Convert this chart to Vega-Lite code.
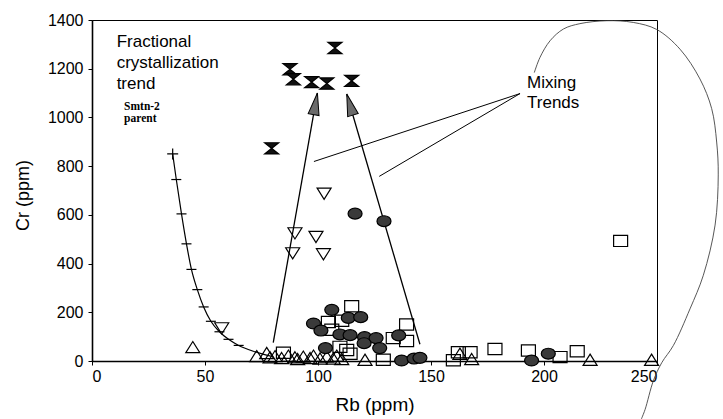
{
  "$schema": "https://vega.github.io/schema/vega-lite/v6.json",
  "width": 565,
  "height": 341,
  "autosize": {"type": "none"},
  "padding": {"left": 92, "top": 20, "right": 66, "bottom": 58},
  "background": "white",
  "config": {
    "font": "Liberation Sans",
    "view": {"stroke": "black", "strokeWidth": 1},
    "axis": {
      "grid": false,
      "domainColor": "black",
      "domainWidth": 1.6,
      "tickColor": "black",
      "tickWidth": 1,
      "tickSize": 4,
      "labelColor": "black",
      "labelFontSize": 16,
      "labelPadding": 4,
      "format": "d",
      "titleColor": "black",
      "titleFontWeight": "normal"
    }
  },
  "datasets": {
    "samples": [
      {"type": "square", "Rb": 84.7, "Cr": 34},
      {"type": "square", "Rb": 104.6, "Cr": 160},
      {"type": "square", "Rb": 106.1, "Cr": 128},
      {"type": "square", "Rb": 110.5, "Cr": 165},
      {"type": "square", "Rb": 114.9, "Cr": 225},
      {"type": "square", "Rb": 109.7, "Cr": 58},
      {"type": "square", "Rb": 112.7, "Cr": 45},
      {"type": "square", "Rb": 114.2, "Cr": 30},
      {"type": "square", "Rb": 128.9, "Cr": 5},
      {"type": "square", "Rb": 133.3, "Cr": 94},
      {"type": "square", "Rb": 139.2, "Cr": 82},
      {"type": "square", "Rb": 139.2, "Cr": 150},
      {"type": "square", "Rb": 159.9, "Cr": 3},
      {"type": "square", "Rb": 162.1, "Cr": 36},
      {"type": "square", "Rb": 167.3, "Cr": 36},
      {"type": "square", "Rb": 178.3, "Cr": 49},
      {"type": "square", "Rb": 193.1, "Cr": 43},
      {"type": "square", "Rb": 207.1, "Cr": 16},
      {"type": "square", "Rb": 214.7, "Cr": 40},
      {"type": "square", "Rb": 233.9, "Cr": 493},
      {"type": "tri-up", "Rb": 44.6, "Cr": 57},
      {"type": "tri-up", "Rb": 72.9, "Cr": 20},
      {"type": "tri-up", "Rb": 77.3, "Cr": 33},
      {"type": "tri-up", "Rb": 78.8, "Cr": 15},
      {"type": "tri-up", "Rb": 81.0, "Cr": 20},
      {"type": "tri-up", "Rb": 83.9, "Cr": 12},
      {"type": "tri-up", "Rb": 86.9, "Cr": 22},
      {"type": "tri-up", "Rb": 89.8, "Cr": 15},
      {"type": "tri-up", "Rb": 91.0, "Cr": 8},
      {"type": "tri-up", "Rb": 93.5, "Cr": 18},
      {"type": "tri-up", "Rb": 96.5, "Cr": 12},
      {"type": "tri-up", "Rb": 98.0, "Cr": 22},
      {"type": "tri-up", "Rb": 100.9, "Cr": 10},
      {"type": "tri-up", "Rb": 103.9, "Cr": 18},
      {"type": "tri-up", "Rb": 106.8, "Cr": 10},
      {"type": "tri-up", "Rb": 108.3, "Cr": 22},
      {"type": "tri-up", "Rb": 110.5, "Cr": 8},
      {"type": "tri-up", "Rb": 120.8, "Cr": 5},
      {"type": "tri-up", "Rb": 162.8, "Cr": 30},
      {"type": "tri-up", "Rb": 168.0, "Cr": 8},
      {"type": "tri-up", "Rb": 220.4, "Cr": 5},
      {"type": "tri-up", "Rb": 247.6, "Cr": 5},
      {"type": "tri-down", "Rb": 57.4, "Cr": 134},
      {"type": "tri-down", "Rb": 88.8, "Cr": 442},
      {"type": "tri-down", "Rb": 89.8, "Cr": 524},
      {"type": "tri-down", "Rb": 99.1, "Cr": 509},
      {"type": "tri-down", "Rb": 102.4, "Cr": 438},
      {"type": "tri-down", "Rb": 102.7, "Cr": 687},
      {"type": "ellipse", "Rb": 116.4, "Cr": 605},
      {"type": "ellipse", "Rb": 129.2, "Cr": 574},
      {"type": "ellipse", "Rb": 106.1, "Cr": 210},
      {"type": "ellipse", "Rb": 98.0, "Cr": 154},
      {"type": "ellipse", "Rb": 101.3, "Cr": 125},
      {"type": "ellipse", "Rb": 113.4, "Cr": 177},
      {"type": "ellipse", "Rb": 118.9, "Cr": 180},
      {"type": "ellipse", "Rb": 109.7, "Cr": 109},
      {"type": "ellipse", "Rb": 114.2, "Cr": 106},
      {"type": "ellipse", "Rb": 120.6, "Cr": 98},
      {"type": "ellipse", "Rb": 120.4, "Cr": 73},
      {"type": "ellipse", "Rb": 125.7, "Cr": 94},
      {"type": "ellipse", "Rb": 127.3, "Cr": 53},
      {"type": "ellipse", "Rb": 135.7, "Cr": 105},
      {"type": "ellipse", "Rb": 103.3, "Cr": 53},
      {"type": "ellipse", "Rb": 137.0, "Cr": 2},
      {"type": "ellipse", "Rb": 142.5, "Cr": 10},
      {"type": "ellipse", "Rb": 145.1, "Cr": 13},
      {"type": "ellipse", "Rb": 194.5, "Cr": 2},
      {"type": "ellipse", "Rb": 201.9, "Cr": 30},
      {"type": "bowtie", "Rb": 79.5, "Cr": 873},
      {"type": "bowtie", "Rb": 87.6, "Cr": 1198},
      {"type": "bowtie", "Rb": 89.1, "Cr": 1157},
      {"type": "bowtie", "Rb": 97.2, "Cr": 1145},
      {"type": "bowtie", "Rb": 103.9, "Cr": 1139},
      {"type": "bowtie", "Rb": 107.5, "Cr": 1285},
      {"type": "bowtie", "Rb": 114.9, "Cr": 1150}
    ],
    "fc_model": [
      {"step": 0, "Rb": 35.7, "Cr": 850},
      {"step": 1, "Rb": 37.3, "Cr": 745},
      {"step": 2, "Rb": 39.6, "Cr": 604},
      {"step": 3, "Rb": 41.8, "Cr": 481},
      {"step": 4, "Rb": 44.0, "Cr": 376},
      {"step": 5, "Rb": 46.6, "Cr": 293},
      {"step": 6, "Rb": 49.4, "Cr": 222},
      {"step": 7, "Rb": 52.6, "Cr": 163},
      {"step": 8, "Rb": 56.4, "Cr": 120},
      {"step": 9, "Rb": 60.4, "Cr": 89},
      {"step": 10, "Rb": 64.9, "Cr": 64},
      {"step": 11, "Rb": 71.4, "Cr": 40},
      {"step": 12, "Rb": 76.0, "Cr": 27},
      {"step": 13, "Rb": 80.0, "Cr": 18}
    ],
    "arrows": [
      {"id": "left", "Rb": 80.2, "Cr": 75},
      {"id": "left", "Rb": 99.7, "Cr": 1100},
      {"id": "right", "Rb": 145.1, "Cr": 69},
      {"id": "right", "Rb": 112.7, "Cr": 1096}
    ],
    "heads": [
      {"Rb": 98.9, "Cr": 1056, "dir": 10},
      {"Rb": 114.1, "Cr": 1053, "dir": -16.3}
    ],
    "pointers": [
      {"id": "p1", "Rb": 189.4, "Cr": 1098},
      {"id": "p1", "Rb": 98.2, "Cr": 819},
      {"id": "p2", "Rb": 189.4, "Cr": 1098},
      {"id": "p2", "Rb": 127.1, "Cr": 758}
    ],
    "outline": [
      {"seq": 1, "Rb": 195.7, "Cr": 1184},
      {"seq": 2, "Rb": 198.2, "Cr": 1246},
      {"seq": 3, "Rb": 202.7, "Cr": 1315},
      {"seq": 4, "Rb": 208.6, "Cr": 1363},
      {"seq": 5, "Rb": 215.9, "Cr": 1385},
      {"seq": 6, "Rb": 227.8, "Cr": 1397},
      {"seq": 7, "Rb": 239.5, "Cr": 1390},
      {"seq": 8, "Rb": 249.9, "Cr": 1361},
      {"seq": 9, "Rb": 260.2, "Cr": 1280},
      {"seq": 10, "Rb": 269.0, "Cr": 1158},
      {"seq": 11, "Rb": 274.2, "Cr": 1036},
      {"seq": 12, "Rb": 276.4, "Cr": 899},
      {"seq": 13, "Rb": 277.1, "Cr": 764},
      {"seq": 14, "Rb": 275.7, "Cr": 558},
      {"seq": 15, "Rb": 270.5, "Cr": 352},
      {"seq": 16, "Rb": 264.6, "Cr": 214},
      {"seq": 17, "Rb": 257.2, "Cr": 63},
      {"seq": 18, "Rb": 252.1, "Cr": -7},
      {"seq": 19, "Rb": 248.4, "Cr": -81},
      {"seq": 20, "Rb": 244.7, "Cr": -200},
      {"seq": 21, "Rb": 243.0, "Cr": -240}
    ],
    "title_note": [
      {"Rb": 10.9, "Cr": 1289, "label": "Fractional\ncrystallization\ntrend"}
    ],
    "parent_note": [
      {"Rb": 14.2, "Cr": 1031, "label": "Smtn-2\nparent"}
    ],
    "mixing_note": [
      {"Rb": 192.5, "Cr": 1119, "label": "Mixing\nTrends"}
    ]
  },
  "encoding": {
    "x": {
      "field": "Rb",
      "type": "quantitative",
      "scale": {"domain": [0, 250], "nice": false, "zero": false},
      "axis": {
        "values": [0, 50, 100, 150, 200, 250],
        "title": "Rb (ppm)",
        "titleFontSize": 19,
        "titleY": 34,
        "labelPadding": 3
      }
    },
    "y": {
      "field": "Cr",
      "type": "quantitative",
      "scale": {"domain": [0, 1400], "nice": false, "zero": false},
      "axis": {
        "values": [0, 200, 400, 600, 800, 1000, 1200, 1400],
        "title": "Cr (ppm)",
        "titleFontSize": 18,
        "titleAngle": -90,
        "titleBaseline": "bottom",
        "titleAlign": "center",
        "titleX": -60,
        "titleY": 175,
        "labelPadding": 5
      }
    }
  },
  "layer": [
    {
      "data": {"name": "outline"},
      "mark": {"type": "line", "interpolate": "catmull-rom", "stroke": "#444444", "strokeWidth": 0.9, "clip": false},
      "encoding": {"order": {"field": "seq", "type": "quantitative"}}
    },
    {
      "data": {"name": "fc_model"},
      "mark": {"type": "line", "interpolate": "monotone", "stroke": "black", "strokeWidth": 1.2},
      "encoding": {"order": {"field": "step", "type": "quantitative"}}
    },
    {
      "data": {"name": "fc_model"},
      "transform": [{"filter": "datum.step >= 1 && datum.step <= 10"}],
      "mark": {"type": "point", "shape": "M-1,0L1,0", "size": 100, "stroke": "black", "strokeWidth": 1.2, "opacity": 1}
    },
    {
      "data": {"name": "fc_model"},
      "transform": [{"filter": "datum.step == 0"}],
      "mark": {"type": "point", "shape": "M-1,0L1,0M0,-1L0,1", "size": 121, "stroke": "black", "strokeWidth": 1.2, "opacity": 1}
    },
    {
      "data": {"name": "arrows"},
      "mark": {"type": "line", "stroke": "black", "strokeWidth": 1.3},
      "encoding": {"detail": {"field": "id", "type": "nominal"}}
    },
    {
      "data": {"name": "pointers"},
      "mark": {"type": "line", "stroke": "black", "strokeWidth": 1},
      "encoding": {"detail": {"field": "id", "type": "nominal"}}
    },
    {
      "data": {"name": "samples"},
      "mark": {"type": "point", "strokeWidth": 1.2, "opacity": 1, "stroke": "black", "size": 196},
      "encoding": {
        "shape": {
          "field": "type",
          "type": "nominal",
          "scale": {
            "domain": ["square", "tri-up", "tri-down", "ellipse", "bowtie"],
            "range": [
              "M-1,-0.8L1,-0.8L1,0.8L-1,0.8Z",
              "M0,-0.8L1,0.8L-1,0.8Z",
              "M-1,-0.8L1,-0.8L0,0.8Z",
              "M-1,0A1,0.78,0,1,1,1,0A1,0.78,0,1,1,-1,0Z",
              "M-1,-0.8L1,-0.8L-1,0.8L1,0.8Z"
            ]
          },
          "legend": null
        },
        "fill": {
          "field": "type",
          "type": "nominal",
          "scale": {
            "domain": ["square", "tri-up", "tri-down", "ellipse", "bowtie"],
            "range": ["transparent", "transparent", "transparent", "#3a3a3a", "#111111"]
          },
          "legend": null
        }
      }
    },
    {
      "data": {"name": "heads"},
      "mark": {"type": "point", "shape": "M0,-1L0.5,1L-0.5,1Z", "size": 484, "fill": "#6a6a6a", "stroke": "black", "strokeWidth": 1, "opacity": 1},
      "encoding": {"angle": {"field": "dir", "type": "quantitative", "scale": null}}
    },
    {
      "data": {"name": "title_note"},
      "mark": {"type": "text", "align": "left", "baseline": "alphabetic", "fontSize": 17, "lineHeight": 21, "lineBreak": "\n", "color": "black"},
      "encoding": {"text": {"field": "label"}}
    },
    {
      "data": {"name": "parent_note"},
      "mark": {"type": "text", "align": "left", "baseline": "alphabetic", "font": "Liberation Serif", "fontWeight": "bold", "fontSize": 11.5, "lineHeight": 12, "lineBreak": "\n", "color": "black"},
      "encoding": {"text": {"field": "label"}}
    },
    {
      "data": {"name": "mixing_note"},
      "mark": {"type": "text", "align": "left", "baseline": "alphabetic", "fontSize": 17, "lineHeight": 20, "lineBreak": "\n", "color": "black"},
      "encoding": {"text": {"field": "label"}}
    }
  ]
}
